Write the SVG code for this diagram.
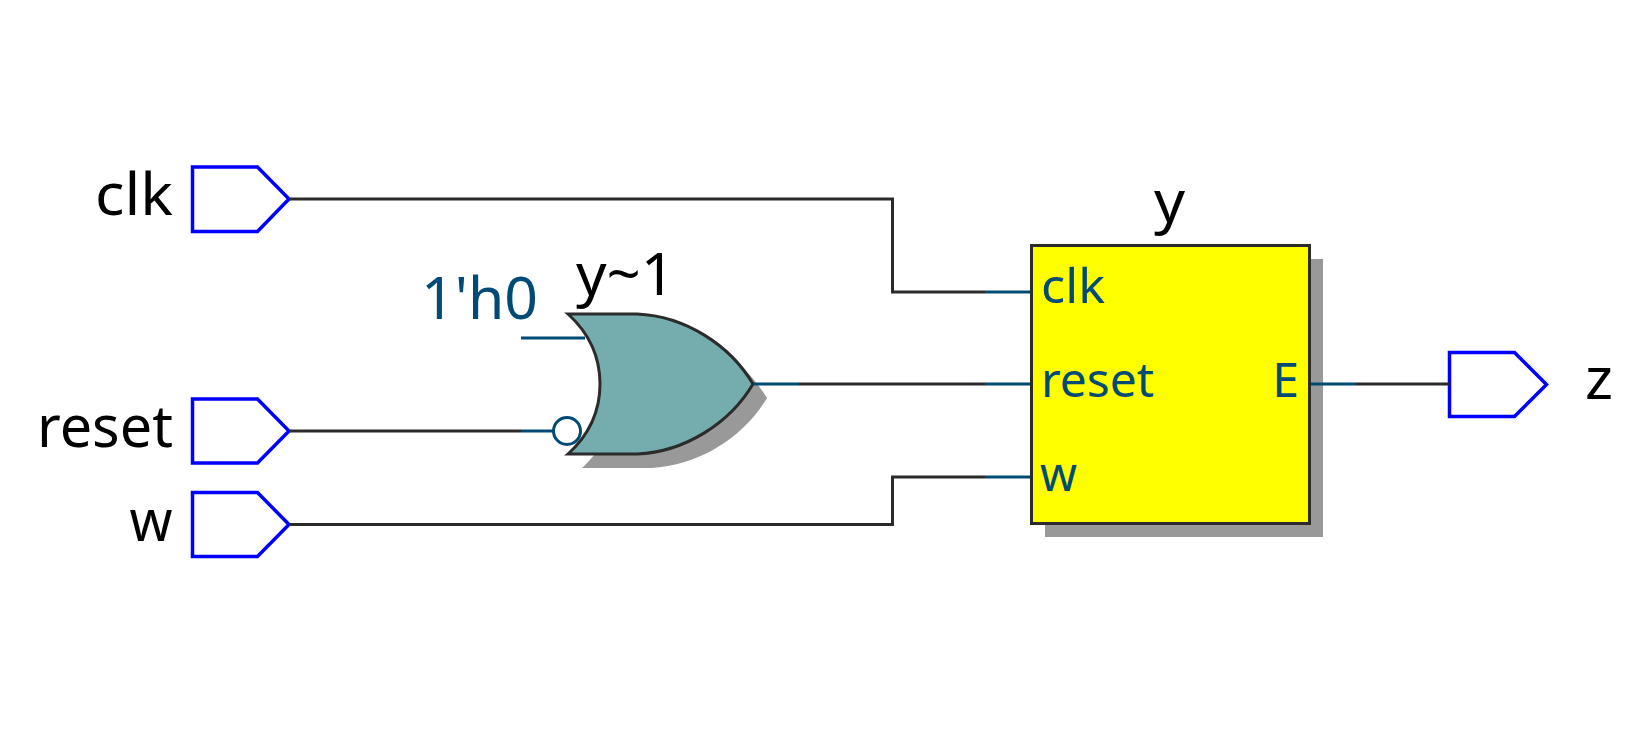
<svg xmlns="http://www.w3.org/2000/svg" width="1635" height="735" viewBox="0 0 1635 735">
<style>
text{font-family:"Noto Sans","Open Sans","DejaVu Sans",sans-serif}
.lbl{font-size:59px;fill:#000}
.pin{font-size:48px;fill:#004b76}
.const{font-size:59px;fill:#004b76}
.port{fill:#fff;stroke:#0000ff;stroke-width:3.500}
.w{fill:none;stroke:#2b2b2b;stroke-width:3}
.s{fill:none;stroke:#004b76;stroke-width:3}
.shadow{fill:#999}
</style>
<rect width="1635" height="735" fill="#fff"/>
<g id="clk"><polygon class="port" points="192.500,167 257.500,167 289,199 257.500,231.500 192.500,231.500"/><text class="lbl" x="173" y="215" text-anchor="end" textLength="78" lengthAdjust="spacingAndGlyphs">clk</text></g>
<g id="reset"><polygon class="port" points="192.500,399 257.500,399 289,431 257.500,463 192.500,463"/><text class="lbl" x="173" y="447" text-anchor="end" textLength="136" lengthAdjust="spacingAndGlyphs">reset</text></g>
<g id="w"><polygon class="port" points="192.500,492.500 257.500,492.500 289,524.500 257.500,556.500 192.500,556.500"/><text class="lbl" x="172.500" y="541" text-anchor="end" textLength="43" lengthAdjust="spacingAndGlyphs">w</text></g>
<g id="const"><text class="const" x="421" y="319" textLength="117" lengthAdjust="spacingAndGlyphs">1'h0</text></g>
<g id="y1">
<path class="shadow" d="M582,328H651C699,330 744,359 767,398C744,437 699,466 651,468H582C604,448 614,424 614,398C614,372 604,348 582,328Z"/>
<circle cx="567" cy="431" r="13.500" fill="#fff" stroke="#004b76" stroke-width="3"/>
<path d="M568,314H637C685,316 730,345 753,384C730,423 685,452 637,454H568C590,434 600,410 600,384C600,358 590,334 568,314Z" fill="#75acad" stroke="#2b2b2b" stroke-width="3"/>
<text class="lbl" x="576" y="295" textLength="99" lengthAdjust="spacingAndGlyphs">y~1</text>
</g>
<g id="y">
<rect class="shadow" x="1045" y="259" width="278" height="278"/>
<rect x="1031.500" y="245.500" width="278" height="278" fill="#ffff00" stroke="#2b2b2b" stroke-width="3"/>
<text class="lbl" x="1154" y="222" textLength="31" lengthAdjust="spacingAndGlyphs">y</text>
<text class="pin" x="1041" y="303" textLength="64" lengthAdjust="spacingAndGlyphs">clk</text>
<text class="pin" x="1041" y="397" textLength="113" lengthAdjust="spacingAndGlyphs">reset</text>
<text class="pin" x="1040" y="490.500" textLength="37" lengthAdjust="spacingAndGlyphs">w</text>
<text class="pin" x="1299" y="397" text-anchor="end">E</text>
</g>
<g id="z"><polygon class="port" points="1449.500,352.500 1514.500,352.500 1546.500,384.500 1514.500,416.500 1449.500,416.500"/><text class="lbl" x="1585" y="399" textLength="28" lengthAdjust="spacingAndGlyphs">z</text></g>
<g id="connectors">
<path class="w" d="M289,199H892.500V292H985"/>
<path class="w" d="M289,431H521"/>
<path class="w" d="M289,524.500H892.500V477H985"/>
<path class="w" d="M799,384H985"/>
<path class="w" d="M1356,384H1449"/>
<path class="s" d="M985,292H1030M985,384H1030M985,477H1030"/>
<path class="s" d="M521,338H585M521,431H553"/>
<path class="s" d="M754,384H799M1311,384H1356"/>
</g>
</svg>
